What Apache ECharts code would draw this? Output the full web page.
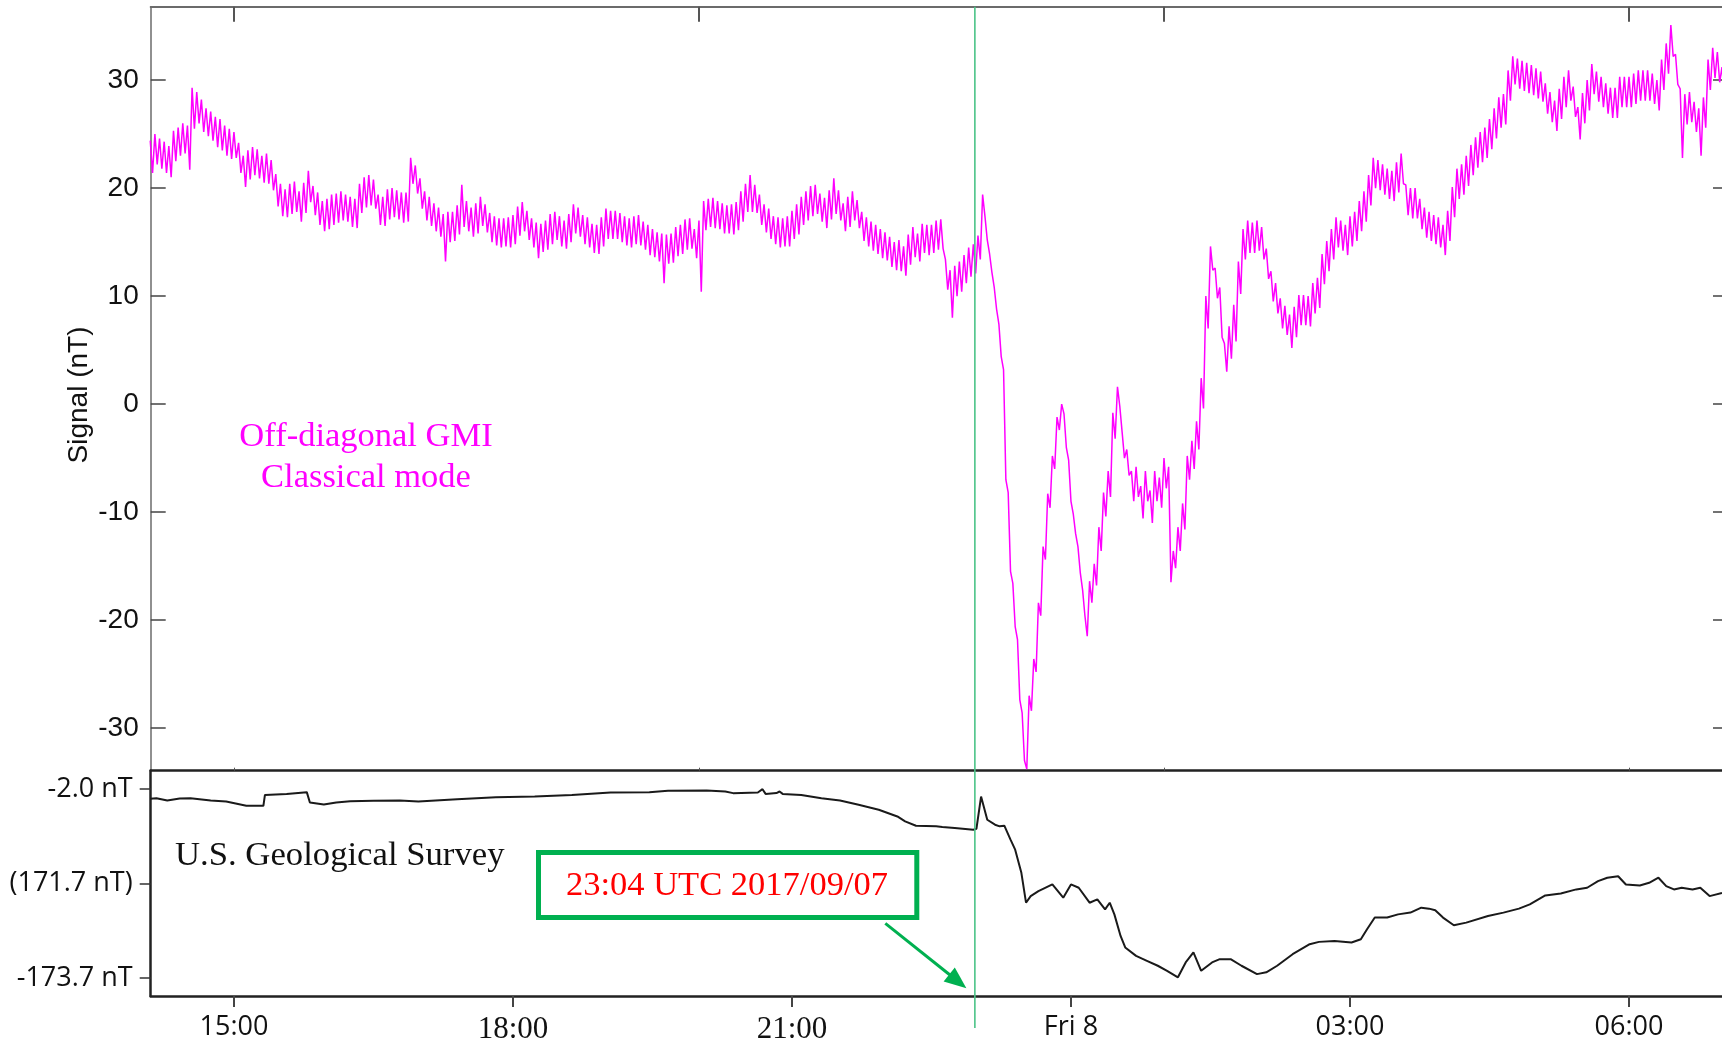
<!DOCTYPE html>
<html>
<head>
<meta charset="utf-8">
<title>GMI signal vs USGS</title>
<script src="https://cdn.jsdelivr.net/npm/echarts@6/dist/echarts.min.js"></script>
<style>
  html, body { margin: 0; padding: 0; background: #fff; }
  #chart { width: 1722px; height: 1045px; }
</style>
</head>
<body>
<div id="chart"></div>
<script>
// x values are minutes after 14:00 UTC, 2017/09/07
const X_MIN = 6.3;
const X_MAX = 1020;

// off-diagonal GMI signal (nT): top and bottom of the noisy trace,
// one reading every 3 min from 14:06 (bottom read half a step later)
const GMI_START = 6;
const GMI_STEP = 3;
const gmiHigh = [
  24.4, 25.0, 24.6, 24.3, 23.9, 25.3, 25.6, 26.0, 25.8, 29.3, 28.9, 28.2, 27.4, 27.1, 26.6, 26.4, 25.8, 25.5, 25.2, 24.2, // 14:06
  23.0, 23.5, 23.8, 23.6, 23.0, 23.2, 22.6, 21.3, 20.4, 19.9, 20.4, 20.6, 19.7, 20.5, 21.6, 20.2, 19.6, 18.8, 19.0, 19.4, // 15:06
  19.5, 19.7, 19.4, 19.2, 19.0, 20.4, 21.0, 21.2, 20.8, 19.4, 19.2, 19.9, 20.0, 19.8, 19.6, 19.6, 22.8, 22.1, 20.9, 19.7, // 16:06
  19.2, 18.6, 18.2, 17.6, 17.8, 17.8, 18.4, 20.3, 18.8, 18.2, 18.6, 19.2, 18.5, 17.7, 17.4, 17.2, 17.2, 17.3, 17.5, 18.3, // 17:06
  18.7, 17.9, 17.2, 16.8, 16.7, 17.0, 17.6, 17.8, 17.4, 17.0, 17.6, 18.5, 18.2, 17.5, 17.3, 16.7, 16.6, 17.3, 18.1, 17.9, // 18:06
  17.9, 17.7, 17.4, 17.2, 17.4, 17.5, 16.9, 16.6, 16.2, 15.9, 15.8, 15.7, 15.8, 16.4, 16.6, 17.1, 17.2, 16.2, 17.0, 18.8, // 19:06
  19.0, 19.1, 18.8, 18.6, 18.4, 18.5, 18.7, 19.7, 20.4, 21.2, 20.3, 19.4, 18.5, 18.1, 17.4, 17.3, 17.2, 17.4, 17.9, 18.5, // 20:06
  19.2, 19.7, 20.2, 20.3, 19.5, 19.1, 19.8, 20.9, 19.8, 18.6, 19.2, 19.7, 18.9, 17.8, 17.3, 16.9, 16.6, 16.2, 15.9, 15.5, // 21:06
  15.0, 15.2, 14.6, 15.7, 16.4, 15.8, 16.7, 16.6, 16.6, 17.0, 17.1, 13.4, 12.4, 12.8, 13.2, 13.8, 14.5, 14.8, 15.6, 19.4, // 22:06
  15.2, 12.2, 8.8, 4.4, -7.0, -15.5, -20.6, -27.4, -33.0, -27.0, -23.6, -18.4, -13.2, -8.3, -4.8, -1.2, 0.0, -4.0, -9.0, -12.0, // 23:06
  -15.6, -19.6, -16.4, -14.8, -11.4, -8.2, -6.2, -0.8, 1.6, -2.6, -4.2, -6.2, -5.8, -7.6, -6.2, -8.0, -6.2, -6.8, -5.0, -5.8, // 00:06
  -13.6, -11.4, -9.2, -4.8, -3.4, -1.6, 2.4, 10.0, 14.6, 12.6, 10.8, 5.6, 7.2, 9.2, 13.2, 16.2, 17.0, 16.8, 17.0, 16.4, // 01:06
  14.4, 12.3, 11.2, 9.8, 9.1, 8.3, 9.0, 10.1, 10.1, 10.0, 11.2, 11.7, 13.9, 15.1, 16.2, 17.3, 17.0, 16.6, 17.4, 17.8, // 02:06
  18.8, 19.7, 21.2, 22.8, 22.6, 22.2, 21.8, 21.6, 22.4, 23.2, 20.3, 20.0, 20.0, 19.0, 18.2, 17.8, 17.5, 17.3, 16.6, 17.9, // 03:06
  20.1, 21.8, 22.2, 23.0, 24.0, 24.7, 25.2, 25.6, 26.4, 27.4, 28.4, 28.7, 30.9, 32.2, 32.0, 31.8, 31.6, 31.4, 31.1, 30.8, // 04:06
  29.7, 28.9, 28.1, 29.2, 30.3, 30.9, 29.4, 27.5, 28.8, 30.0, 31.5, 30.8, 30.3, 29.7, 29.3, 29.3, 30.3, 30.3, 30.3, 30.6, // 05:06
  30.9, 30.9, 30.9, 30.6, 30.0, 31.9, 33.4, 35.1, 32.4, 29.2, 28.7, 28.9, 28.0, 27.4, 28.4, 31.9, 33.0, 32.6, 31.2, 30.8  // 06:06
];
const gmiLow = [
  21.4, 22.2, 21.8, 21.4, 21.0, 22.5, 23.0, 23.2, 21.7, 25.5, 26.0, 25.2, 24.8, 24.4, 23.8, 23.5, 23.0, 22.7, 22.8, 21.4, // 14:06
  20.1, 20.8, 21.2, 20.9, 20.5, 20.4, 19.8, 18.3, 17.4, 17.3, 17.6, 17.8, 16.9, 17.7, 18.7, 17.5, 16.6, 16.0, 16.2, 16.6, // 15:06
  16.8, 17.0, 16.9, 16.4, 16.3, 17.7, 18.2, 18.4, 18.1, 16.6, 16.5, 17.1, 17.3, 17.1, 16.8, 16.9, 20.4, 19.5, 18.1, 17.0, // 16:06
  16.5, 16.0, 15.5, 13.2, 15.0, 15.1, 15.7, 16.4, 16.0, 15.5, 15.8, 16.5, 15.9, 15.0, 14.7, 14.5, 14.6, 14.5, 14.8, 15.6, // 17:06
  16.0, 15.2, 14.5, 13.5, 14.1, 14.3, 14.8, 15.2, 14.6, 14.4, 15.0, 15.8, 15.5, 14.8, 14.5, 14.0, 13.9, 14.6, 15.3, 15.3, // 18:06
  15.3, 15.0, 14.7, 14.5, 14.8, 14.7, 14.3, 13.8, 13.6, 13.2, 11.2, 13.0, 13.1, 13.7, 13.9, 14.3, 14.4, 13.5, 10.4, 16.1, // 19:06
  16.4, 16.3, 16.2, 15.8, 15.8, 15.7, 16.1, 16.9, 17.8, 17.8, 17.7, 16.6, 15.9, 15.3, 14.8, 14.5, 14.6, 14.6, 15.3, 15.7, // 20:06
  16.6, 17.0, 17.4, 17.6, 16.9, 16.3, 17.1, 17.6, 17.0, 16.0, 16.4, 17.0, 16.3, 15.1, 14.6, 14.2, 13.9, 13.5, 13.3, 12.7, // 21:06
  12.4, 12.3, 11.9, 12.9, 13.6, 13.2, 14.0, 13.8, 14.0, 14.3, 14.4, 10.6, 8.0, 10.0, 10.4, 11.2, 11.8, 12.1, 13.4, 17.4,  // 22:06
  13.9, 10.8, 7.4, 3.2, -8.2, -16.6, -21.8, -28.6, -33.8, -28.4, -24.8, -19.6, -14.4, -9.6, -6.0, -2.4, -0.9, -5.2, -10.2, -13.2, // 23:06
  -17.2, -21.5, -18.4, -16.8, -13.6, -10.4, -8.6, -3.2, -0.2, -5.0, -6.6, -9.0, -8.6, -10.6, -9.0, -11.0, -9.0, -9.6, -7.8, -16.5, // 00:06
  -15.2, -13.6, -11.6, -7.0, -6.0, -4.2, -0.4, 7.0, 12.4, 9.8, 6.2, 3.0, 4.2, 5.8, 10.2, 13.4, 14.0, 14.0, 14.2, 13.4, // 01:06
  11.6, 9.5, 8.4, 7.0, 6.4, 5.2, 6.2, 7.3, 7.3, 7.2, 8.4, 8.9, 11.1, 12.3, 13.4, 14.5, 14.2, 13.8, 14.6, 15.1,  // 02:06
  16.0, 16.9, 18.4, 20.0, 19.8, 19.4, 19.0, 18.8, 19.6, 20.4, 17.5, 17.2, 17.2, 16.2, 15.4, 15.1, 14.8, 14.5, 13.8, 15.1, // 03:06
  17.3, 19.0, 19.4, 20.2, 21.2, 21.9, 22.4, 22.8, 23.6, 24.6, 25.6, 25.9, 28.1, 29.6, 29.2, 29.0, 28.8, 28.6, 28.3, 28.0, // 04:06
  26.9, 26.1, 25.3, 26.4, 27.5, 28.1, 26.6, 24.5, 26.0, 27.2, 28.7, 28.0, 27.5, 26.9, 26.5, 26.5, 27.5, 27.5, 27.5, 27.8, // 05:06
  28.1, 28.1, 28.1, 27.8, 27.2, 29.1, 30.6, 32.2, 29.6, 22.8, 25.9, 26.1, 25.2, 23.0, 25.6, 29.1, 30.2, 29.8, 28.4, 28.0  // 06:06
];

// USGS magnetometer trace (nT)
const usgsMinutes = [
  6, 10, 17, 25, 32, 45, 55, 68, 79, 80, 94, 107, 109, 118, 126, 135, 150, 167, 179, 204,
  229, 254, 278, 303, 328, 340, 365, 377, 382, 398, 401, 403, 410, 412, 414, 426, 439, 451, 463, 476,
  488, 493, 500, 513, 517, 525, 537, 539, 542, 546, 551, 554, 557, 561, 564, 568, 571, 574, 579, 588,
  595, 600, 605, 612, 617, 622, 625, 628, 632, 635, 642, 649, 656, 662, 669, 674, 679, 684, 691, 696,
  703, 710, 720, 726, 733, 743, 754, 760, 770, 781, 787, 791, 796, 804, 811, 819, 826, 831, 835, 840,
  847, 855, 869, 879, 889, 896, 906, 916, 926, 933, 940, 946, 953, 958, 967, 973, 979, 984, 989, 994,
  1001, 1006, 1012, 1020
];
const usgsField = [
  -10.8, -10.2, -12.3, -10.5, -10.2, -12.3, -13.2, -17.1, -17.1, -7.2, -6.3, -4.7, -14.1, -15.9, -14.1, -12.9, -12.5, -12.3, -13.2, -11.1,
  -9.3, -8.7, -7.4, -5.1, -4.7, -3.5, -3.2, -4.1, -5.6, -5.0, -2.0, -6.3, -5.5, -4.1, -6.3, -7.2, -10.2, -12.3, -16.2, -20.7,
  -26.8, -31.3, -35.2, -35.8, -36.4, -37.3, -38.8, -38.0, -8.7, -29.8, -34.3, -35.8, -35.2, -47.9, -57.0, -78.0, -105.2, -99.2, -94.7, -88.6,
  -100.6, -88.6, -91.6, -105.2, -102.2, -111.2, -105.2, -115.8, -135.4, -145.9, -153.5, -158.0, -162.5, -167.1, -173.0, -159.5, -150.4, -167.1, -159.5, -156.5,
  -156.5, -162.5, -170.1, -168.5, -162.5, -152.0, -142.9, -140.8, -139.9, -141.4, -138.4, -129.3, -118.7, -118.7, -115.8, -114.2, -109.7, -110.6, -112.0, -118.7,
  -125.7, -123.3, -117.3, -114.2, -110.6, -106.7, -98.6, -96.8, -93.1, -91.6, -85.6, -82.5, -81.1, -88.6, -89.5, -87.1, -82.5, -90.1, -93.1, -91.6,
  -93.1, -91.6, -99.2, -96.3
];

// ticks and labels
const xTickMinutes = [60, 240, 420, 600, 780, 960];
const xTickLabels = ['15:00', '18:00', '21:00', 'Fri 8', '03:00', '06:00'];
const topTickMinutes = [60, 360, 660, 960];
const signalTicks = [-30, -20, -10, 0, 10, 20, 30];
const usgsTicks = [-2.0, -87.85, -173.7];
const usgsTickLabels = ['-2.0 nT', '(171.7 nT)', '-173.7 nT'];

const MARK_MINUTE = 538; // green event line (drawn position)

// interleave top/bottom readings into one trace
const gmiData = [];
gmiHigh.forEach((v, i) => {
  const t = GMI_START + i * GMI_STEP;
  gmiData.push([t, v]);
  gmiData.push([t + GMI_STEP / 2, gmiLow[i]]);
});
const usgsData = usgsMinutes.map((m, i) => [m, usgsField[i]]);

const chart = echarts.init(document.getElementById('chart'));

const GRAY = '#6b6b6b';
const DARK = '#222';

chart.setOption({
  animation: false,
  grid: [
    { left: 150.7, top: 6.7, right: 0, height: 764 },
    { left: 150.7, top: 770.7, right: 0, height: 226.3 }
  ],
  xAxis: [
    {
      gridIndex: 0, type: 'value', position: 'top', min: X_MIN, max: X_MAX,
      axisLine: { onZero: false, lineStyle: { color: GRAY, width: 2 } },
      axisTick: { inside: true, length: 15, customValues: topTickMinutes, lineStyle: { color: '#555', width: 2 } },
      axisLabel: { show: false }, splitLine: { show: false }
    },
    {
      gridIndex: 0, type: 'value', position: 'bottom', min: X_MIN, max: X_MAX,
      axisLine: { show: false, onZero: false },
      axisTick: { inside: true, length: 3, customValues: topTickMinutes, lineStyle: { color: '#555', width: 1 } },
      axisLabel: { show: false }, splitLine: { show: false }
    },
    {
      gridIndex: 1, type: 'value', position: 'top', min: X_MIN, max: X_MAX,
      axisLine: { onZero: false, lineStyle: { color: DARK, width: 2.5 } },
      axisTick: { show: false }, axisLabel: { show: false }, splitLine: { show: false }
    },
    {
      gridIndex: 1, type: 'value', position: 'bottom', min: X_MIN, max: X_MAX,
      axisLine: { onZero: false, lineStyle: { color: DARK, width: 2.5 } },
      axisTick: { length: 11, customValues: xTickMinutes, lineStyle: { color: '#444', width: 2 } },
      axisLabel: {
        customValues: xTickMinutes,
        margin: 18,
        formatter: v => {
          const i = xTickMinutes.indexOf(v);
          const txt = i >= 0 ? xTickLabels[i] : '';
          return (txt === '18:00' || txt === '21:00') ? '{s|' + txt + '}' : '{n|' + txt + '}';
        },
        rich: {
          s: { fontFamily: 'Liberation Serif', fontSize: 31, color: '#111' },
          n: { fontFamily: 'Open Sans', fontSize: 27, color: '#111' }
        }
      },
      splitLine: { show: false }
    }
  ],
  yAxis: [
    {
      gridIndex: 0, type: 'value', min: -33.95, max: 36.8,
      axisLine: { show: true, onZero: false, lineStyle: { color: GRAY, width: 1.5 } },
      axisTick: { show: true, inside: true, length: 15, customValues: signalTicks, lineStyle: { color: '#444', width: 1.5 } },
      axisLabel: { customValues: signalTicks, margin: 12, fontSize: 28, fontFamily: 'Liberation Sans', color: '#111' },
      splitLine: { show: false }
    },
    {
      gridIndex: 0, type: 'value', position: 'right', min: -33.95, max: 36.8,
      axisLine: { show: false, onZero: false },
      axisTick: { show: true, inside: true, length: 9, customValues: signalTicks, lineStyle: { color: '#444', width: 1.5 } },
      axisLabel: { show: false }, splitLine: { show: false }
    },
    {
      gridIndex: 1, type: 'value', min: -190, max: 14.8,
      axisLine: { show: true, onZero: false, lineStyle: { color: DARK, width: 2.5 } },
      axisTick: { show: true, length: 11, customValues: usgsTicks, lineStyle: { color: '#333', width: 1.5 } },
      axisLabel: {
        customValues: usgsTicks, margin: 18, fontSize: 27, fontFamily: 'Open Sans', color: '#111',
        formatter: v => {
          const i = usgsTicks.indexOf(v);
          return i >= 0 ? usgsTickLabels[i] : '';
        }
      },
      splitLine: { show: false }
    }
  ],
  series: [
    {
      name: 'GMI', type: 'line', xAxisIndex: 0, yAxisIndex: 0, data: gmiData,
      symbol: 'none', lineStyle: { color: '#ff00ff', width: 1.5 }, silent: true
    },
    {
      name: 'USGS', type: 'line', xAxisIndex: 3, yAxisIndex: 2, data: usgsData,
      symbol: 'none', lineStyle: { color: '#1a1a1a', width: 2 }, silent: true
    }
  ]
});

// annotations: axis title, event line, labels, box and arrow
const gx = chart.convertToPixel({ xAxisIndex: 0 }, MARK_MINUTE);
const GREEN = '#00b050';
const serif = size => size + 'px "Liberation Serif", "Times New Roman", serif';

chart.setOption({
  graphic: [
    {
      type: 'text', x: 79, y: 395, rotation: Math.PI / 2,
      style: { text: 'Signal (nT)', x: 0, y: 0, fill: '#111', font: '28px "Liberation Sans", Arial, sans-serif', align: 'center', verticalAlign: 'middle' }
    },
    {
      type: 'line', z: 100,
      shape: { x1: gx, y1: 6.7, x2: gx, y2: 1028 },
      style: { stroke: '#4cc487', lineWidth: 1.6 }
    },
    {
      type: 'text', z: 50,
      style: { text: 'Off-diagonal GMI', x: 366, y: 437, fill: '#ff00ff', font: serif(34.5), align: 'center', verticalAlign: 'middle' }
    },
    {
      type: 'text', z: 50,
      style: { text: 'Classical mode', x: 366, y: 478, fill: '#ff00ff', font: serif(34.5), align: 'center', verticalAlign: 'middle' }
    },
    {
      type: 'text', z: 50,
      style: { text: 'U.S. Geological Survey', x: 175, y: 856, fill: '#111', font: serif(34.7), align: 'left', verticalAlign: 'middle' }
    },
    {
      type: 'rect', z: 50,
      shape: { x: 538.5, y: 852.5, width: 378.3, height: 65 },
      style: { fill: '#fff', stroke: GREEN, lineWidth: 5 }
    },
    {
      type: 'text', z: 51,
      style: { text: '23:04 UTC 2017/09/07', x: 727, y: 886, fill: '#ff0000', font: serif(34.5), align: 'center', verticalAlign: 'middle' }
    },
    {
      type: 'line', z: 50,
      shape: { x1: 885.3, y1: 923.3, x2: 950, y2: 975 },
      style: { stroke: GREEN, lineWidth: 3 }
    },
    {
      type: 'polygon', z: 50,
      shape: { points: [[966.4, 988.3], [943.6, 981.5], [954.8, 967.5]] },
      style: { fill: GREEN }
    }
  ]
});
</script>
</body>
</html>
